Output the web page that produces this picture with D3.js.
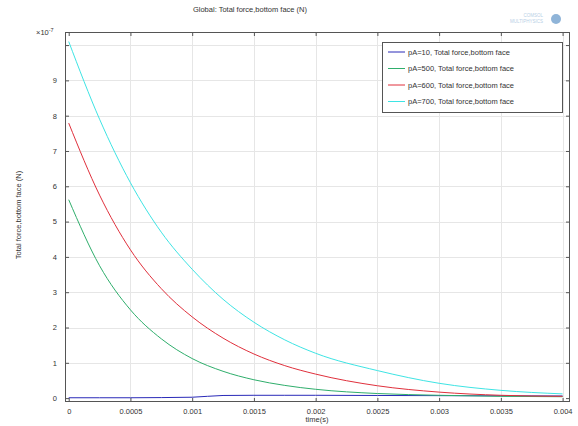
<!DOCTYPE html>
<html lang="en">
  <head>
    <meta charset="UTF-8" />
    <title>Global: Total force,bottom face (N)</title>
    <script src="https://d3js.org/d3.v7.min.js"></script>
    <style>
      body {
        margin: 0;
        background: #fff;
        font-family: "Liberation Sans", Arial, sans-serif;
      }
      text {
        fill: #333;
      }
    </style>
  </head>
  <body>
    <svg width="578" height="426"></svg>
    <script>
      // time samples (s) and force values (x1e-7 N)
      const times = [0, 0.00025, 0.0005, 0.00075, 0.001, 0.00125, 0.0015, 0.00175, 0.002, 0.0025, 0.003, 0.0035, 0.004];
      const pA10 = [0.01, 0.01, 0.01, 0.015, 0.025, 0.075, 0.08, 0.08, 0.08, 0.075, 0.07, 0.065, 0.06];
      const pA500 = [5.62, 3.75, 2.5, 1.68, 1.12, 0.76, 0.52, 0.36, 0.25, 0.13, 0.08, 0.05, 0.04];
      const pA600 = [7.79, 5.75, 4.2, 3.1, 2.3, 1.7, 1.25, 0.92, 0.68, 0.35, 0.17, 0.08, 0.05];
      const pA700 = [10.1, 7.9, 6.1, 4.7, 3.65, 2.8, 2.15, 1.65, 1.27, 0.78, 0.42, 0.22, 0.12];

      const seriesNames = [
        "pA=10, Total force,bottom face",
        "pA=500, Total force,bottom face",
        "pA=600, Total force,bottom face",
        "pA=700, Total force,bottom face"
      ];
      const seriesColors = ["#2a2ab8", "#2fae6c", "#e0303c", "#3ee4e4"];
      const seriesValues = [pA10, pA500, pA600, pA700];

      const xTicks = [0, 0.0005, 0.001, 0.0015, 0.002, 0.0025, 0.003, 0.0035, 0.004];
      const xTickLabels = ["0", "0.0005", "0.001", "0.0015", "0.002", "0.0025", "0.003", "0.0035", "0.004"];
      const yTicks = [0, 1, 2, 3, 4, 5, 6, 7, 8, 9, 10];

      const svg = d3.select("svg");
      const plot = { left: 65, right: 570, top: 32, bottom: 402 };

      const x = d3.scaleLinear().domain([-0.00003, 0.00406]).range([plot.left, plot.right]);
      const y = d3.scaleLinear().domain([-0.11, 10.37]).range([plot.bottom, plot.top]);

      // grid
      const grid = svg.append("g").attr("stroke", "#e6e6e6").attr("stroke-width", 1);
      grid.selectAll(".gx").data(xTicks.slice(1)).enter().append("line")
        .attr("x1", d => Math.round(x(d)) + 0.5).attr("x2", d => Math.round(x(d)) + 0.5)
        .attr("y1", plot.top).attr("y2", plot.bottom);
      grid.selectAll(".gy").data(yTicks.slice(1)).enter().append("line")
        .attr("y1", d => Math.round(y(d)) + 0.5).attr("y2", d => Math.round(y(d)) + 0.5)
        .attr("x1", plot.left).attr("x2", plot.right);

      // inward ticks on all four sides
      const tickLen = 4;
      const axisStyle = g => g.call(s => s.select(".domain").remove())
        .call(s => s.selectAll("line").attr("stroke", "#555"))
        .call(s => s.selectAll("text").style("font-size", "7.5px").attr("fill", "#333"));

      svg.append("g").attr("transform", `translate(0,${plot.bottom})`)
        .call(d3.axisBottom(x).tickValues(xTicks).tickFormat((d, i) => xTickLabels[i]).tickSizeInner(-tickLen).tickPadding(7))
        .call(axisStyle);
      svg.append("g").attr("transform", `translate(0,${plot.top})`)
        .call(d3.axisTop(x).tickValues(xTicks).tickFormat("").tickSizeInner(-tickLen))
        .call(axisStyle);
      svg.append("g").attr("transform", `translate(${plot.left},0)`)
        .call(d3.axisLeft(y).tickValues(yTicks).tickFormat(d => d === 10 ? "" : d).tickSizeInner(-tickLen).tickPadding(8))
        .call(axisStyle);
      svg.append("g").attr("transform", `translate(${plot.right},0)`)
        .call(d3.axisRight(y).tickValues(yTicks).tickFormat("").tickSizeInner(-tickLen))
        .call(axisStyle);

      // series
      const line = d3.line().x((d, i) => x(times[i])).y(d => y(d)).curve(d3.curveMonotoneX);
      svg.append("g").selectAll("path").data(seriesValues).enter().append("path")
        .attr("d", d => line(d))
        .attr("fill", "none")
        .attr("stroke", (d, i) => seriesColors[i])
        .attr("stroke-width", 1);

      // frame
      svg.append("rect")
        .attr("x", plot.left + 0.5).attr("y", plot.top + 0.5)
        .attr("width", plot.right - plot.left - 1).attr("height", plot.bottom - plot.top - 1)
        .attr("fill", "none").attr("stroke", "#555").attr("stroke-width", 1);

      // exponent
      const expo = svg.append("text").attr("x", 36).attr("y", 35).style("font-size", "7.5px");
      expo.append("tspan").text("×10");
      expo.append("tspan").attr("dy", -3).style("font-size", "5.5px").text("-7");

      // titles
      svg.append("text").attr("x", 250).attr("y", 12).attr("text-anchor", "middle")
        .style("font-size", "7.5px").text("Global: Total force,bottom face (N)");
      svg.append("text").attr("x", 317).attr("y", 422).attr("text-anchor", "middle")
        .style("font-size", "7.5px").text("time(s)");
      svg.append("text").attr("transform", "translate(21,215) rotate(-90)").attr("text-anchor", "middle")
        .style("font-size", "7.5px").text("Total force,bottom face (N)");

      // faint logo top right
      svg.append("text").attr("x", 543).attr("y", 17).attr("text-anchor", "end")
        .style("font-size", "4.5px").style("fill", "#b8cfe6").text("COMSOL");
      svg.append("text").attr("x", 543).attr("y", 23).attr("text-anchor", "end")
        .style("font-size", "4.5px").style("fill", "#b8cfe6").text("MULTIPHYSICS");
      svg.append("circle").attr("cx", 556).attr("cy", 19).attr("r", 5).attr("fill", "#8fb4d8");

      // legend
      const legend = svg.append("g");
      legend.append("rect").attr("x", 382.5).attr("y", 42.5).attr("width", 180).attr("height", 70)
        .attr("fill", "#fff").attr("stroke", "#555");
      const rows = legend.selectAll(".row").data(seriesNames).enter().append("g")
        .attr("transform", (d, i) => `translate(0,${52 + i * 16.5})`);
      rows.append("line").attr("x1", 388).attr("x2", 405).attr("y1", 0).attr("y2", 0)
        .attr("stroke", (d, i) => seriesColors[i]).attr("stroke-width", 1);
      rows.append("text").attr("x", 408).attr("y", 2.5).style("font-size", "7.5px").text(d => d);
    </script>
  </body>
</html>
